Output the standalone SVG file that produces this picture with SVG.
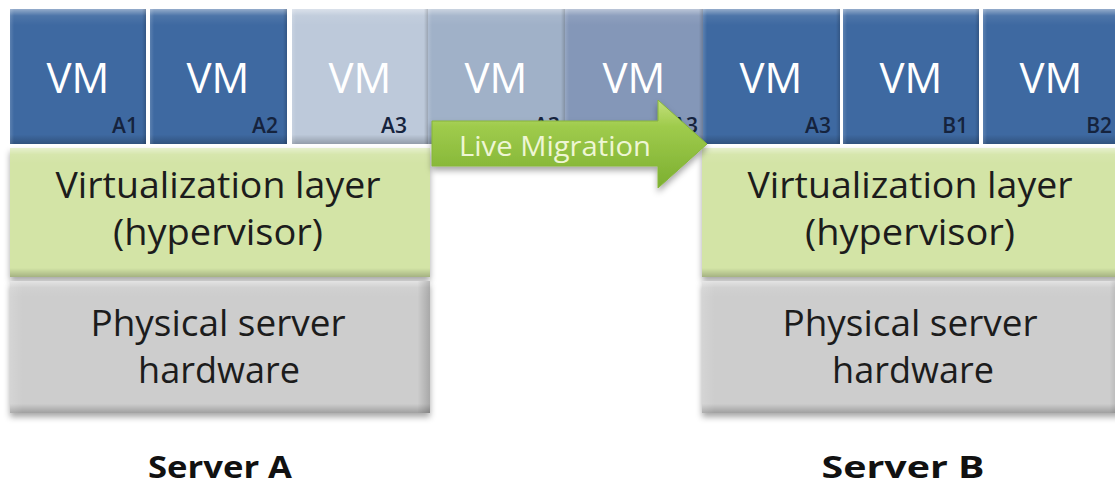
<svg xmlns="http://www.w3.org/2000/svg" width="1115" height="488" viewBox="0 0 1115 488">
  <defs>
    <linearGradient id="bevelV" x1="0" y1="0" x2="0" y2="1">
      <stop offset="0" stop-color="#ffffff" stop-opacity="0.45"/>
      <stop offset="0.05" stop-color="#ffffff" stop-opacity="0.08"/>
      <stop offset="0.12" stop-color="#ffffff" stop-opacity="0"/>
      <stop offset="0.93" stop-color="#000000" stop-opacity="0"/>
      <stop offset="1" stop-color="#000000" stop-opacity="0.22"/>
    </linearGradient>
    <linearGradient id="bevelH" x1="0" y1="0" x2="1" y2="0">
      <stop offset="0" stop-color="#ffffff" stop-opacity="0.15"/>
      <stop offset="0.03" stop-color="#ffffff" stop-opacity="0"/>
      <stop offset="0.97" stop-color="#000000" stop-opacity="0"/>
      <stop offset="1" stop-color="#000000" stop-opacity="0.18"/>
    </linearGradient>
    <linearGradient id="arrowGrad" x1="0" y1="0" x2="0" y2="1">
      <stop offset="0" stop-color="#c4e07c"/>
      <stop offset="0.3" stop-color="#9fcb4c"/>
      <stop offset="1" stop-color="#7caf30"/>
    </linearGradient>
    <filter id="shadow" x="-5%" y="-5%" width="110%" height="125%">
      <feDropShadow dx="0" dy="4" stdDeviation="3" flood-color="#000000" flood-opacity="0.35"/>
    </filter>
    <clipPath id="clipAll"><rect x="0" y="0" width="1115" height="488"/></clipPath>
  </defs>
  <style>
    .vm-dark { fill: #3e69a1; }
    .vm-g1 { fill: #bdc9da; }
    .vm-g2 { fill: #a0b1c8; }
    .vm-g3 { fill: #8497b8; }
    .bv { fill: url(#bevelV); }
    .bh { fill: url(#bevelH); }
    .vmtxt { font-family: "Open Sans", "Liberation Sans", sans-serif; font-size: 42px; fill: #ffffff; text-anchor: middle; }
    .vmlbl { font-family: "Open Sans", "Liberation Sans", sans-serif; font-size: 21px; font-weight: 600; fill: #15233d; text-anchor: end; }
    .hyp { fill: #d3e4a6; }
    .hw { fill: #cdcdcd; }
    .big { font-family: "Open Sans", "Liberation Sans", sans-serif; font-size: 37px; fill: #1c1c1c; text-anchor: middle; }
    .srv { font-family: "Open Sans", "Liberation Sans", sans-serif; font-size: 31px; font-weight: bold; fill: #111111; text-anchor: middle; }
    .mig { font-family: "Open Sans", "Liberation Sans", sans-serif; font-size: 28px; fill: #eef6d4; text-anchor: middle; }
  </style>
  <rect x="0" y="0" width="1115" height="488" fill="#ffffff"/>

  <g clip-path="url(#clipAll)">
    <!-- Server A VMs -->
    <g id="vm-a1">
      <rect class="vm-dark" x="10" y="9" width="136" height="135"/>
      <rect class="bv" x="10" y="9" width="136" height="135"/>
      <rect class="bh" x="10" y="9" width="136" height="135"/>
      <text class="vmtxt" x="78" y="93">VM</text>
      <text class="vmlbl" x="138" y="133">A1</text>
    </g>
    <g id="vm-a2">
      <rect class="vm-dark" x="150" y="9" width="137" height="135"/>
      <rect class="bv" x="150" y="9" width="137" height="135"/>
      <rect class="bh" x="150" y="9" width="137" height="135"/>
      <text class="vmtxt" x="218" y="93">VM</text>
      <text class="vmlbl" x="278" y="133">A2</text>
    </g>
    <g id="vm-a3-source">
      <rect class="vm-g1" x="292" y="9" width="136" height="135"/>
      <rect class="bv" x="292" y="9" width="136" height="135"/>
      <rect class="bh" x="292" y="9" width="136" height="135"/>
      <text class="vmtxt" x="360" y="93">VM</text>
      <text class="vmlbl" x="407" y="133">A3</text>
    </g>
    <g id="vm-a3-transit1">
      <rect class="vm-g2" x="428" y="9" width="137" height="135"/>
      <rect class="bv" x="428" y="9" width="137" height="135"/>
      <rect class="bh" x="428" y="9" width="137" height="135"/>
      <text class="vmtxt" x="496" y="93">VM</text>
      <text class="vmlbl" x="560" y="133">A3</text>
    </g>
    <g id="vm-a3-transit2">
      <rect class="vm-g3" x="565" y="9" width="138" height="135"/>
      <rect class="bv" x="565" y="9" width="138" height="135"/>
      <rect class="bh" x="565" y="9" width="138" height="135"/>
      <text class="vmtxt" x="634" y="93">VM</text>
      <text class="vmlbl" x="698" y="133">A3</text>
    </g>

    <!-- Server B VMs -->
    <g id="vm-b-a3">
      <rect class="vm-dark" x="703" y="9" width="137" height="135"/>
      <rect class="bv" x="703" y="9" width="137" height="135"/>
      <rect class="bh" x="703" y="9" width="137" height="135"/>
      <text class="vmtxt" x="771" y="93">VM</text>
      <text class="vmlbl" x="831" y="133">A3</text>
    </g>
    <g id="vm-b1">
      <rect class="vm-dark" x="843" y="9" width="136" height="135"/>
      <rect class="bv" x="843" y="9" width="136" height="135"/>
      <rect class="bh" x="843" y="9" width="136" height="135"/>
      <text class="vmtxt" x="911" y="93">VM</text>
      <text class="vmlbl" x="968" y="133">B1</text>
    </g>
    <g id="vm-b2">
      <rect class="vm-dark" x="983" y="9" width="136" height="135"/>
      <rect class="bv" x="983" y="9" width="136" height="135"/>
      <rect class="bh" x="983" y="9" width="136" height="135"/>
      <text class="vmtxt" x="1051" y="93">VM</text>
      <text class="vmlbl" x="1112" y="133">B2</text>
    </g>

    <!-- Server A layers -->
    <g id="hypervisor-a">
      <rect class="hyp" x="10" y="148" width="420" height="129" filter="url(#shadow)"/>
      <rect class="bv" x="10" y="148" width="420" height="129"/>
      <text class="big" x="218" y="198" textLength="325" lengthAdjust="spacingAndGlyphs">Virtualization layer</text>
      <text class="big" x="218" y="245" textLength="210" lengthAdjust="spacingAndGlyphs">(hypervisor)</text>
    </g>
    <g id="hardware-a">
      <rect class="hw" x="10" y="281" width="420" height="132" filter="url(#shadow)"/>
      <rect class="bv" x="10" y="281" width="420" height="132"/>
      <rect class="bh" x="10" y="281" width="420" height="132"/>
      <text class="big" x="218" y="336" textLength="255" lengthAdjust="spacingAndGlyphs">Physical server</text>
      <text class="big" x="219" y="383" textLength="162" lengthAdjust="spacingAndGlyphs">hardware</text>
    </g>
    <g id="label-server-a">
      <text class="srv" x="220" y="478" textLength="144" lengthAdjust="spacingAndGlyphs">Server A</text>
    </g>

    <!-- Server B layers -->
    <g id="hypervisor-b">
      <rect class="hyp" x="702" y="148" width="420" height="129" filter="url(#shadow)"/>
      <rect class="bv" x="702" y="148" width="420" height="129"/>
      <text class="big" x="910" y="198" textLength="325" lengthAdjust="spacingAndGlyphs">Virtualization layer</text>
      <text class="big" x="910" y="245" textLength="210" lengthAdjust="spacingAndGlyphs">(hypervisor)</text>
    </g>
    <g id="hardware-b">
      <rect class="hw" x="702" y="281" width="420" height="132" filter="url(#shadow)"/>
      <rect class="bv" x="702" y="281" width="420" height="132"/>
      <rect class="bh" x="702" y="281" width="420" height="132"/>
      <text class="big" x="910" y="336" textLength="255" lengthAdjust="spacingAndGlyphs">Physical server</text>
      <text class="big" x="913" y="383" textLength="162" lengthAdjust="spacingAndGlyphs">hardware</text>
    </g>
    <g id="label-server-b">
      <text class="srv" x="903" y="478" textLength="163" lengthAdjust="spacingAndGlyphs">Server B</text>
    </g>

    <!-- Connectors -->
    <g id="connectors">
      <g id="live-migration">
        <path d="M432,121 H658 V100 L707,144 L658,188 V166 H432 Z" fill="url(#arrowGrad)" stroke="#86b63a" stroke-width="1" filter="url(#shadow)"/>
        <text class="mig" x="555" y="156" textLength="192" lengthAdjust="spacingAndGlyphs">Live Migration</text>
      </g>
    </g>
  </g>
</svg>
